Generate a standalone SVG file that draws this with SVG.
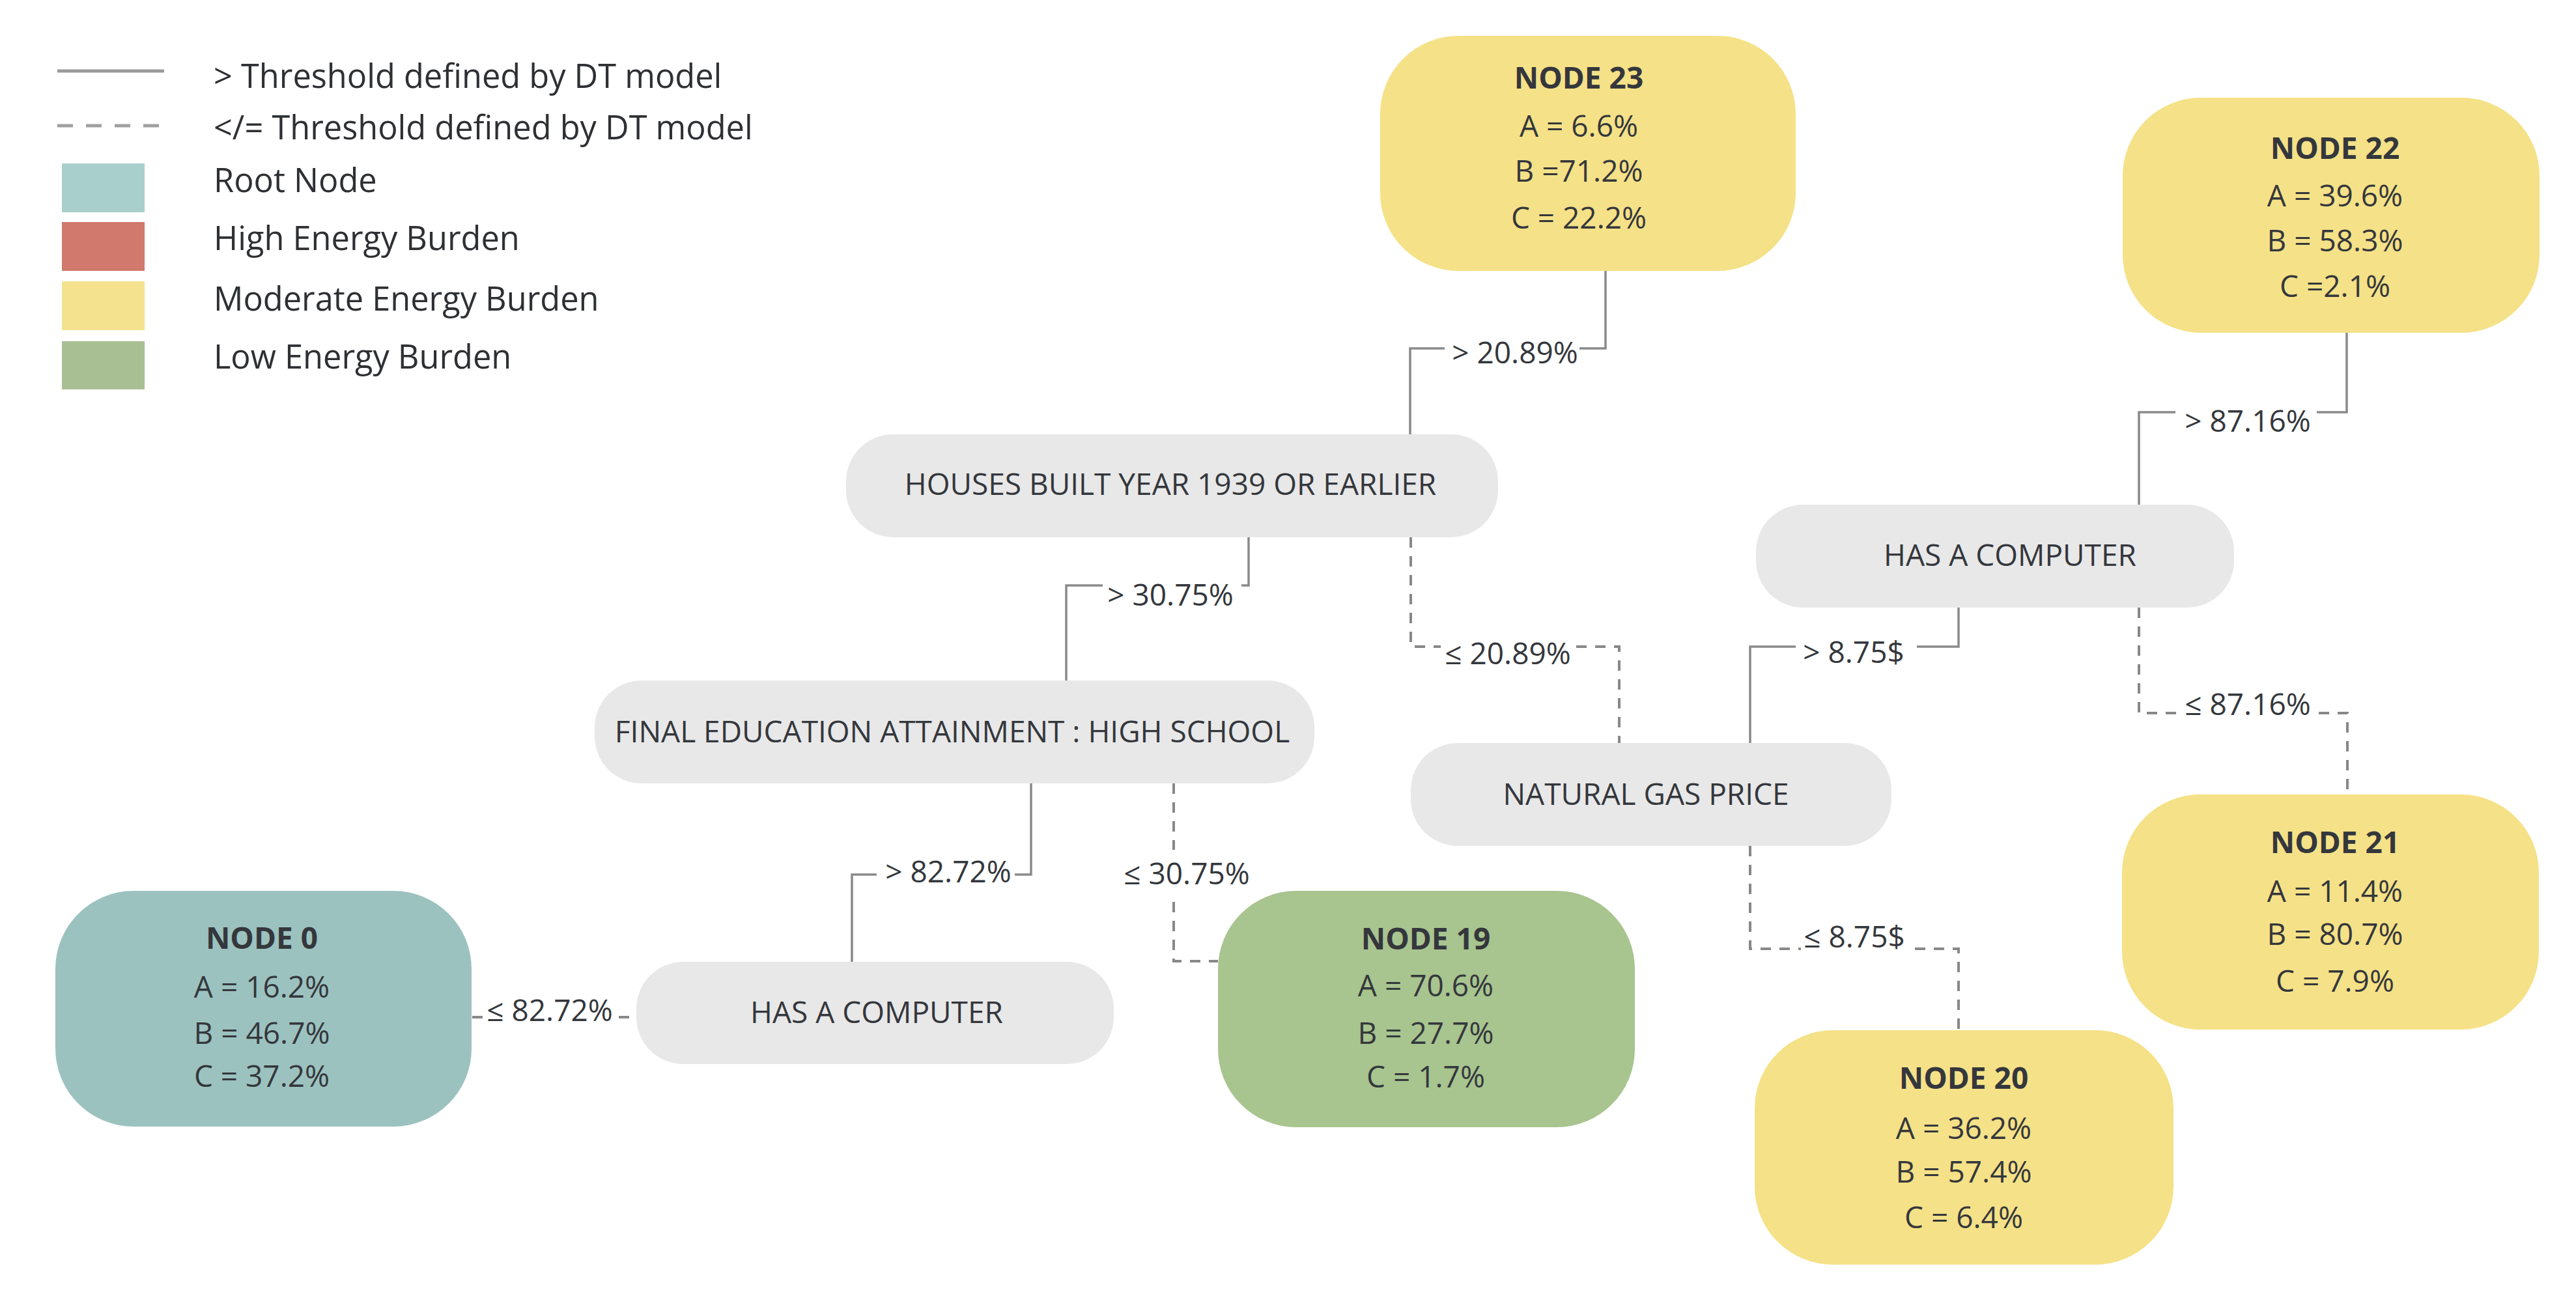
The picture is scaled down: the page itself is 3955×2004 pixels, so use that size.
<svg xmlns="http://www.w3.org/2000/svg" width="3955" height="2004" viewBox="0 0 3955 2004">
<style>
text{font-family:"Open Sans","Noto Sans","Liberation Sans",sans-serif;fill:#34373c}
.lg{font-size:50.5px;fill:#2e3033}
.t{font-size:46px;text-anchor:middle}
.b{font-weight:bold}
.lab{font-size:46px;text-anchor:middle}
.dec{fill:#e8e8e8}
.yel{fill:#f5e187}
.sol{fill:none;stroke:#8a8a8a;stroke-width:3.5}
.dsh{fill:none;stroke:#888888;stroke-width:4;stroke-dasharray:16 13}
</style>
<rect width="3955" height="2004" fill="#ffffff"/>
<g id="legend">
<path d="M88,109 H252" stroke="#9a9a9a" stroke-width="5" fill="none"/>
<path d="M88,193 H252" stroke="#a0a0a0" stroke-width="5" stroke-dasharray="24 20" fill="none"/>
<rect x="95" y="251" width="127" height="75" fill="#a9cfcc"/>
<rect x="95" y="341" width="127" height="75" fill="#d0796c"/>
<rect x="95" y="432" width="127" height="75" fill="#f5e28e"/>
<rect x="95" y="524" width="127" height="74" fill="#a8bf94"/>
<text class="lg" x="328" y="135">&gt; Threshold defined by DT model</text>
<text class="lg" x="328" y="214">&lt;/= Threshold defined by DT model</text>
<text class="lg" x="328" y="295">Root Node</text>
<text class="lg" x="328" y="384">High Energy Burden</text>
<text class="lg" x="328" y="477">Moderate Energy Burden</text>
<text class="lg" x="328" y="566">Low Energy Burden</text>
</g>
<g id="connectors">
<path class="sol" d="M2165,667 V535 H2218 M2425,535 H2465 V416"/>
<path class="sol" d="M1917,825 V899 H1906 M1693,899 H1637 V1045"/>
<path class="sol" d="M1308,1477 V1343 H1346 M1558,1343 H1583 V1203"/>
<path class="sol" d="M2687,1141 V993 H2757 M2943,993 H3007 V933"/>
<path class="sol" d="M3284,775 V633 H3340 M3557,633 H3603 V511"/>
<path class="dsh" d="M2166,825 V993 H2212 M2420,993 H2486 V1141"/>
<path class="dsh" d="M1802,1203 V1305 M1802,1385 V1476 H1870"/>
<path class="dsh" d="M725,1562 H748 M950,1562 H977"/>
<path class="dsh" d="M2687,1299 V1457 H2765 M2940,1457 H3007 V1582"/>
<path class="dsh" d="M3284,933 V1095 H3345 M3560,1095 H3604 V1220"/>
<text class="lab" x="2326" y="558">&gt; 20.89%</text>
<text class="lab" x="1797" y="930">&gt; 30.75%</text>
<text class="lab" x="1456" y="1355">&gt; 82.72%</text>
<text class="lab" x="2846" y="1018">&gt; 8.75$</text>
<text class="lab" x="3451" y="663">&gt; 87.16%</text>
<text class="lab" x="2315" y="1020">≤ 20.89%</text>
<text class="lab" x="1822" y="1358">≤ 30.75%</text>
<text class="lab" x="844" y="1568">≤ 82.72%</text>
<text class="lab" x="2847" y="1455">≤ 8.75$</text>
<text class="lab" x="3451" y="1098">≤ 87.16%</text>
</g>
<g id="houses">
<rect class="dec" x="1299" y="667" width="1001" height="158" rx="72"/>
<text class="t" x="1797" y="760">HOUSES BUILT YEAR 1939 OR EARLIER</text>
</g>
<g id="education">
<rect class="dec" x="913" y="1045" width="1105" height="158" rx="72"/>
<text class="t" x="1462" y="1140">FINAL EDUCATION ATTAINMENT : HIGH SCHOOL</text>
</g>
<g id="gas">
<rect class="dec" x="2166" y="1141" width="738" height="158" rx="72"/>
<text class="t" x="2527" y="1236">NATURAL GAS PRICE</text>
</g>
<g id="computer-right">
<rect class="dec" x="2696" y="775" width="734" height="158" rx="72"/>
<text class="t" x="3086" y="869">HAS A COMPUTER</text>
</g>
<g id="computer-left">
<rect class="dec" x="977" y="1477" width="733" height="157" rx="72"/>
<text class="t" x="1346" y="1571">HAS A COMPUTER</text>
</g>
<g id="node23">
<rect class="yel" x="2119" y="55" width="638" height="361" rx="120"/>
<text class="t b" x="2424" y="136">NODE 23</text>
<text class="t" x="2424" y="210">A = 6.6%</text>
<text class="t" x="2424" y="279">B =71.2%</text>
<text class="t" x="2424" y="351">C = 22.2%</text>
</g>
<g id="node22">
<rect class="yel" x="3259" y="150" width="640" height="361" rx="120"/>
<text class="t b" x="3585" y="244">NODE 22</text>
<text class="t" x="3585" y="317">A = 39.6%</text>
<text class="t" x="3585" y="386">B = 58.3%</text>
<text class="t" x="3585" y="456">C =2.1%</text>
</g>
<g id="node0">
<rect x="85" y="1368" width="639" height="362" rx="120" fill="#9cc2bf"/>
<text class="t b" x="402" y="1457">NODE 0</text>
<text class="t" x="402" y="1532">A = 16.2%</text>
<text class="t" x="402" y="1603">B = 46.7%</text>
<text class="t" x="402" y="1669">C = 37.2%</text>
</g>
<g id="node19">
<rect x="1870" y="1368" width="640" height="363" rx="120" fill="#a8c48f"/>
<text class="t b" x="2189" y="1458">NODE 19</text>
<text class="t" x="2189" y="1530">A = 70.6%</text>
<text class="t" x="2189" y="1603">B = 27.7%</text>
<text class="t" x="2189" y="1670">C = 1.7%</text>
</g>
<g id="node20">
<rect class="yel" x="2694" y="1582" width="643" height="360" rx="120"/>
<text class="t b" x="3015" y="1672">NODE 20</text>
<text class="t" x="3015" y="1749">A = 36.2%</text>
<text class="t" x="3015" y="1816">B = 57.4%</text>
<text class="t" x="3015" y="1886">C = 6.4%</text>
</g>
<g id="node21">
<rect class="yel" x="3258" y="1220" width="640" height="361" rx="120"/>
<text class="t b" x="3585" y="1310">NODE 21</text>
<text class="t" x="3585" y="1385">A = 11.4%</text>
<text class="t" x="3585" y="1451">B = 80.7%</text>
<text class="t" x="3585" y="1523">C = 7.9%</text>
</g>
</svg>
